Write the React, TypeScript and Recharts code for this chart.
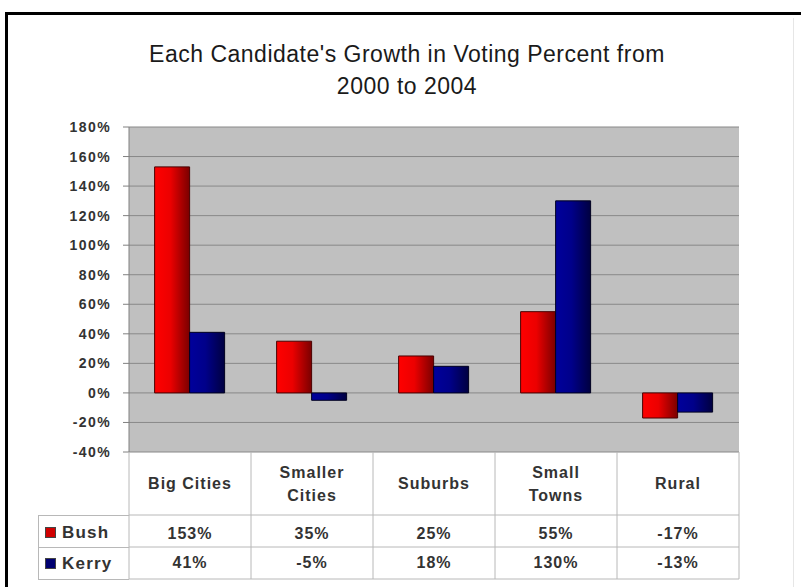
import React from 'react';
import { BarChart, Bar, XAxis, YAxis, CartesianGrid, Legend } from 'recharts';

const categories = ['Big Cities', 'Smaller Cities', 'Suburbs', 'Small Towns', 'Rural'];
const categoryLabelLines = [['Big Cities'], ['Smaller', 'Cities'], ['Suburbs'], ['Small', 'Towns'], ['Rural']];
const bushValues = [153, 35, 25, 55, -17];
const kerryValues = [41, -5, 18, 130, -13];
const yTicks = [-40, -20, 0, 20, 40, 60, 80, 100, 120, 140, 160, 180];
const seriesNames = ['Bush', 'Kerry'];
const titleLines = ["Each Candidate's Growth in Voting Percent from", '2000 to 2004'];

const data = categories.map((c, i) => ({ category: c, Bush: bushValues[i], Kerry: kerryValues[i] }));

const W = 801;
const H = 587;
const PLOT_LEFT = 129;
const PLOT_RIGHT = 739;
const PLOT_TOP = 127;
const X_AXIS_H = 135;
const BAND = (PLOT_RIGHT - PLOT_LEFT) / categories.length;
const FONT = '"Liberation Sans", Arial, sans-serif';
const TEXT = '#333';
const LINE = '#b8b8b8';

const fmt = (v: number) => `${v}%`;

function TableTick(props: any) {
  const { x, y, index } = props;
  const half = BAND / 2;
  const lines = categoryLabelLines[index] || [String(props.payload?.value)];
  const txt = {
    fontFamily: FONT,
    fontWeight: 700,
    fontSize: 16,
    letterSpacing: 1,
    fill: TEXT,
    textAnchor: 'middle' as const,
    dominantBaseline: 'central' as const,
  };
  return (
    <g>
      {index === 0 && <line x1={x - half} x2={x - half} y1={y} y2={y + 127} stroke={LINE} />}
      <line x1={x + half} x2={x + half} y1={y} y2={y + 127} stroke={LINE} />
      <line x1={x - half} x2={x + half} y1={y + 63} y2={y + 63} stroke={LINE} />
      <line x1={x - half} x2={x + half} y1={y + 95} y2={y + 95} stroke={LINE} />
      <line x1={x - half} x2={x + half} y1={y + 127} y2={y + 127} stroke={LINE} />
      {lines.length === 1 ? (
        <text x={x} y={y + 31} {...txt}>{lines[0]}</text>
      ) : (
        lines.map((l: string, k: number) => (
          <text key={k} x={x} y={y + 20 + k * 23} {...txt}>{l}</text>
        ))
      )}
      <text x={x} y={y + 81} {...txt}>{fmt(bushValues[index])}</text>
      <text x={x} y={y + 110} {...txt}>{fmt(kerryValues[index])}</text>
    </g>
  );
}

const markerColors: Record<string, string> = { Bush: '#d00000', Kerry: '#000070' };

function LegendTable() {
  return (
    <div
      style={{
        width: PLOT_LEFT - 38,
        borderLeft: `1px solid ${LINE}`,
        borderTop: `1px solid ${LINE}`,
        boxSizing: 'border-box',
      }}
    >
      {seriesNames.map((n) => (
        <div
          key={n}
          style={{
            height: 32,
            borderBottom: `1px solid ${LINE}`,
            display: 'flex',
            alignItems: 'center',
            boxSizing: 'border-box',
            paddingLeft: 6,
            paddingTop: n === 'Bush' ? 2 : 0,
          }}
        >
          <span
            style={{
              display: 'inline-block',
              width: 11,
              height: 11,
              background: markerColors[n],
              border: '1px solid #444',
              boxSizing: 'border-box',
              marginRight: 6,
            }}
          />
          <span style={{ fontFamily: FONT, fontWeight: 700, fontSize: 17, letterSpacing: 1.2, color: TEXT }}>{n}</span>
        </div>
      ))}
    </div>
  );
}

export default function App() {
  return (
    <div style={{ position: 'absolute', left: 0, top: 0, width: W, height: H, background: '#fff', overflow: 'hidden' }}>
      <div
        style={{
          position: 'absolute',
          left: 5,
          top: 12,
          width: W,
          height: H,
          borderLeft: '3px solid #000',
          borderTop: '3px solid #000',
        }}
      />
      <div style={{ position: 'absolute', left: 793, top: 18, width: 1, height: H, background: '#e6e6e6' }} />
      <div
        style={{
          position: 'absolute',
          left: 0,
          width: 814,
          top: 38,
          textAlign: 'center',
          fontFamily: FONT,
          fontSize: 23,
          letterSpacing: 0.5,
          lineHeight: '32px',
          color: '#1a1a1a',
        }}
      >
        {titleLines.map((t) => (
          <div key={t}>{t}</div>
        ))}
      </div>
      <BarChart
        width={W}
        height={H}
        data={data}
        margin={{ top: PLOT_TOP, right: W - PLOT_RIGHT, bottom: 0, left: 0 }}
        barGap={0}
        barCategoryGap="21%"
        style={{ position: 'absolute', left: 0, top: 0 }}
      >
        <defs>
          <linearGradient id="bushGrad" x1="0" y1="0" x2="1" y2="0">
            <stop offset="0%" stopColor="#ff0000" />
            <stop offset="45%" stopColor="#ec0000" />
            <stop offset="100%" stopColor="#7a0000" />
          </linearGradient>
          <linearGradient id="kerryGrad" x1="0" y1="0" x2="1" y2="0">
            <stop offset="0%" stopColor="#00009c" />
            <stop offset="45%" stopColor="#00008a" />
            <stop offset="100%" stopColor="#000040" />
          </linearGradient>
        </defs>
        <CartesianGrid vertical={false} stroke="#888" fill="#c0c0c0" />
        <XAxis
          dataKey="category"
          height={X_AXIS_H}
          axisLine={false}
          tickLine={false}
          tickSize={0}
          tickMargin={0}
          interval={0}
          tick={<TableTick />}
        />
        <YAxis
          width={PLOT_LEFT}
          domain={[-40, 180]}
          ticks={yTicks}
          interval={0}
          tickFormatter={fmt}
          axisLine={{ stroke: '#808080' }}
          tickLine={{ stroke: '#808080' }}
          tickSize={6}
          tickMargin={12}
          tick={{ fill: TEXT, fontFamily: FONT, fontWeight: 700, fontSize: 14, letterSpacing: 1.4 }}
        />
        <Legend
          layout="vertical"
          align="center"
          verticalAlign="middle"
          content={() => <LegendTable />}
          wrapperStyle={{ position: 'absolute', left: 38, top: 515, width: PLOT_LEFT - 38, height: 65 }}
        />
        <Bar dataKey="Bush" name="Bush" fill="url(#bushGrad)" stroke="#4a0000" strokeWidth={1} isAnimationActive={false} />
        <Bar dataKey="Kerry" name="Kerry" fill="url(#kerryGrad)" stroke="#000020" strokeWidth={1} isAnimationActive={false} />
      </BarChart>
    </div>
  );
}
